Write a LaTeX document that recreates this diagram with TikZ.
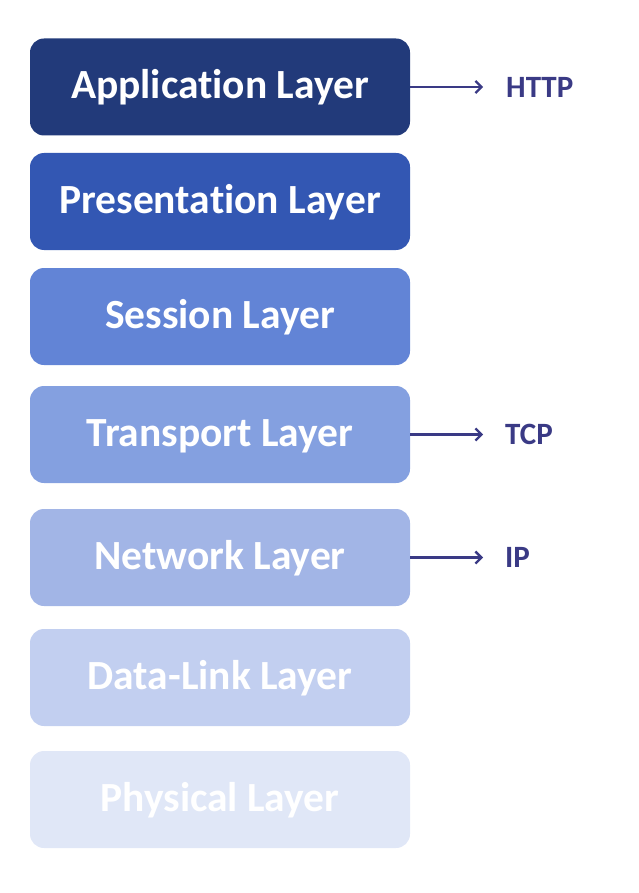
\documentclass[tikz,border=0pt]{standalone}
\usepackage{fontspec}
\setmainfont{Carlito}[RawFeature=-liga]
\usetikzlibrary{arrows.meta}
\definecolor{c1}{HTML}{223A7A}
\definecolor{c2}{HTML}{3357B3}
\definecolor{c3}{HTML}{6284D6}
\definecolor{c4}{HTML}{84A0E0}
\definecolor{c5}{HTML}{A2B5E6}
\definecolor{c6}{HTML}{C2CFF0}
\definecolor{c7}{HTML}{E0E7F7}
\definecolor{lab}{HTML}{3A3A85}
\tikzset{
  layer/.style={rectangle, rounded corners=14pt, minimum width=380pt, minimum height=97pt,
    inner sep=0pt, text=white, text height=31pt, text depth=7pt, font=\fontsize{41.5}{48}\selectfont\bfseries},
  proto/.style={anchor=west, text=lab, inner sep=0pt, font=\fontsize{31}{36}\selectfont\bfseries},
  link/.style={draw=lab, line width=2.3pt, -{Straight Barb[length=6pt,width=12pt,line width=2.3pt]}}
}
\begin{document}
\begin{tikzpicture}[x=1pt,y=-1pt]
\useasboundingbox (0,0) rectangle (639,893);
\node[layer, fill=c1] (app) at (220,87) {Application Layer};
\node[layer, fill=c2] (pre) at (220,201.5) {Presentation Layer};
\node[layer, fill=c3] (ses) at (220,316.5) {Session Layer};
\node[layer, fill=c4] (tra) at (220,434.5) {Transport Layer};
\node[layer, fill=c5] (net) at (220,557.5) {Network Layer};
\node[layer, fill=c6] (dat) at (220,677.5) {Data-Link Layer};
\node[layer, fill=c7] (phy) at (220,799.5) {Physical Layer};
\node[proto] (http) at (506,87) {HTTP};
\node[proto] (tcp) at (505,434.5) {TCP};
\node[proto] (ip) at (505,557.5) {IP};
\coordinate (ha) at (483,87);
\coordinate (ta) at (483,434.5);
\coordinate (ia) at (483,557.5);
\draw[link] (app.east) -- (ha);
\draw[link] (tra.east) -- (ta);
\draw[link] (net.east) -- (ia);
\end{tikzpicture}
\end{document}
